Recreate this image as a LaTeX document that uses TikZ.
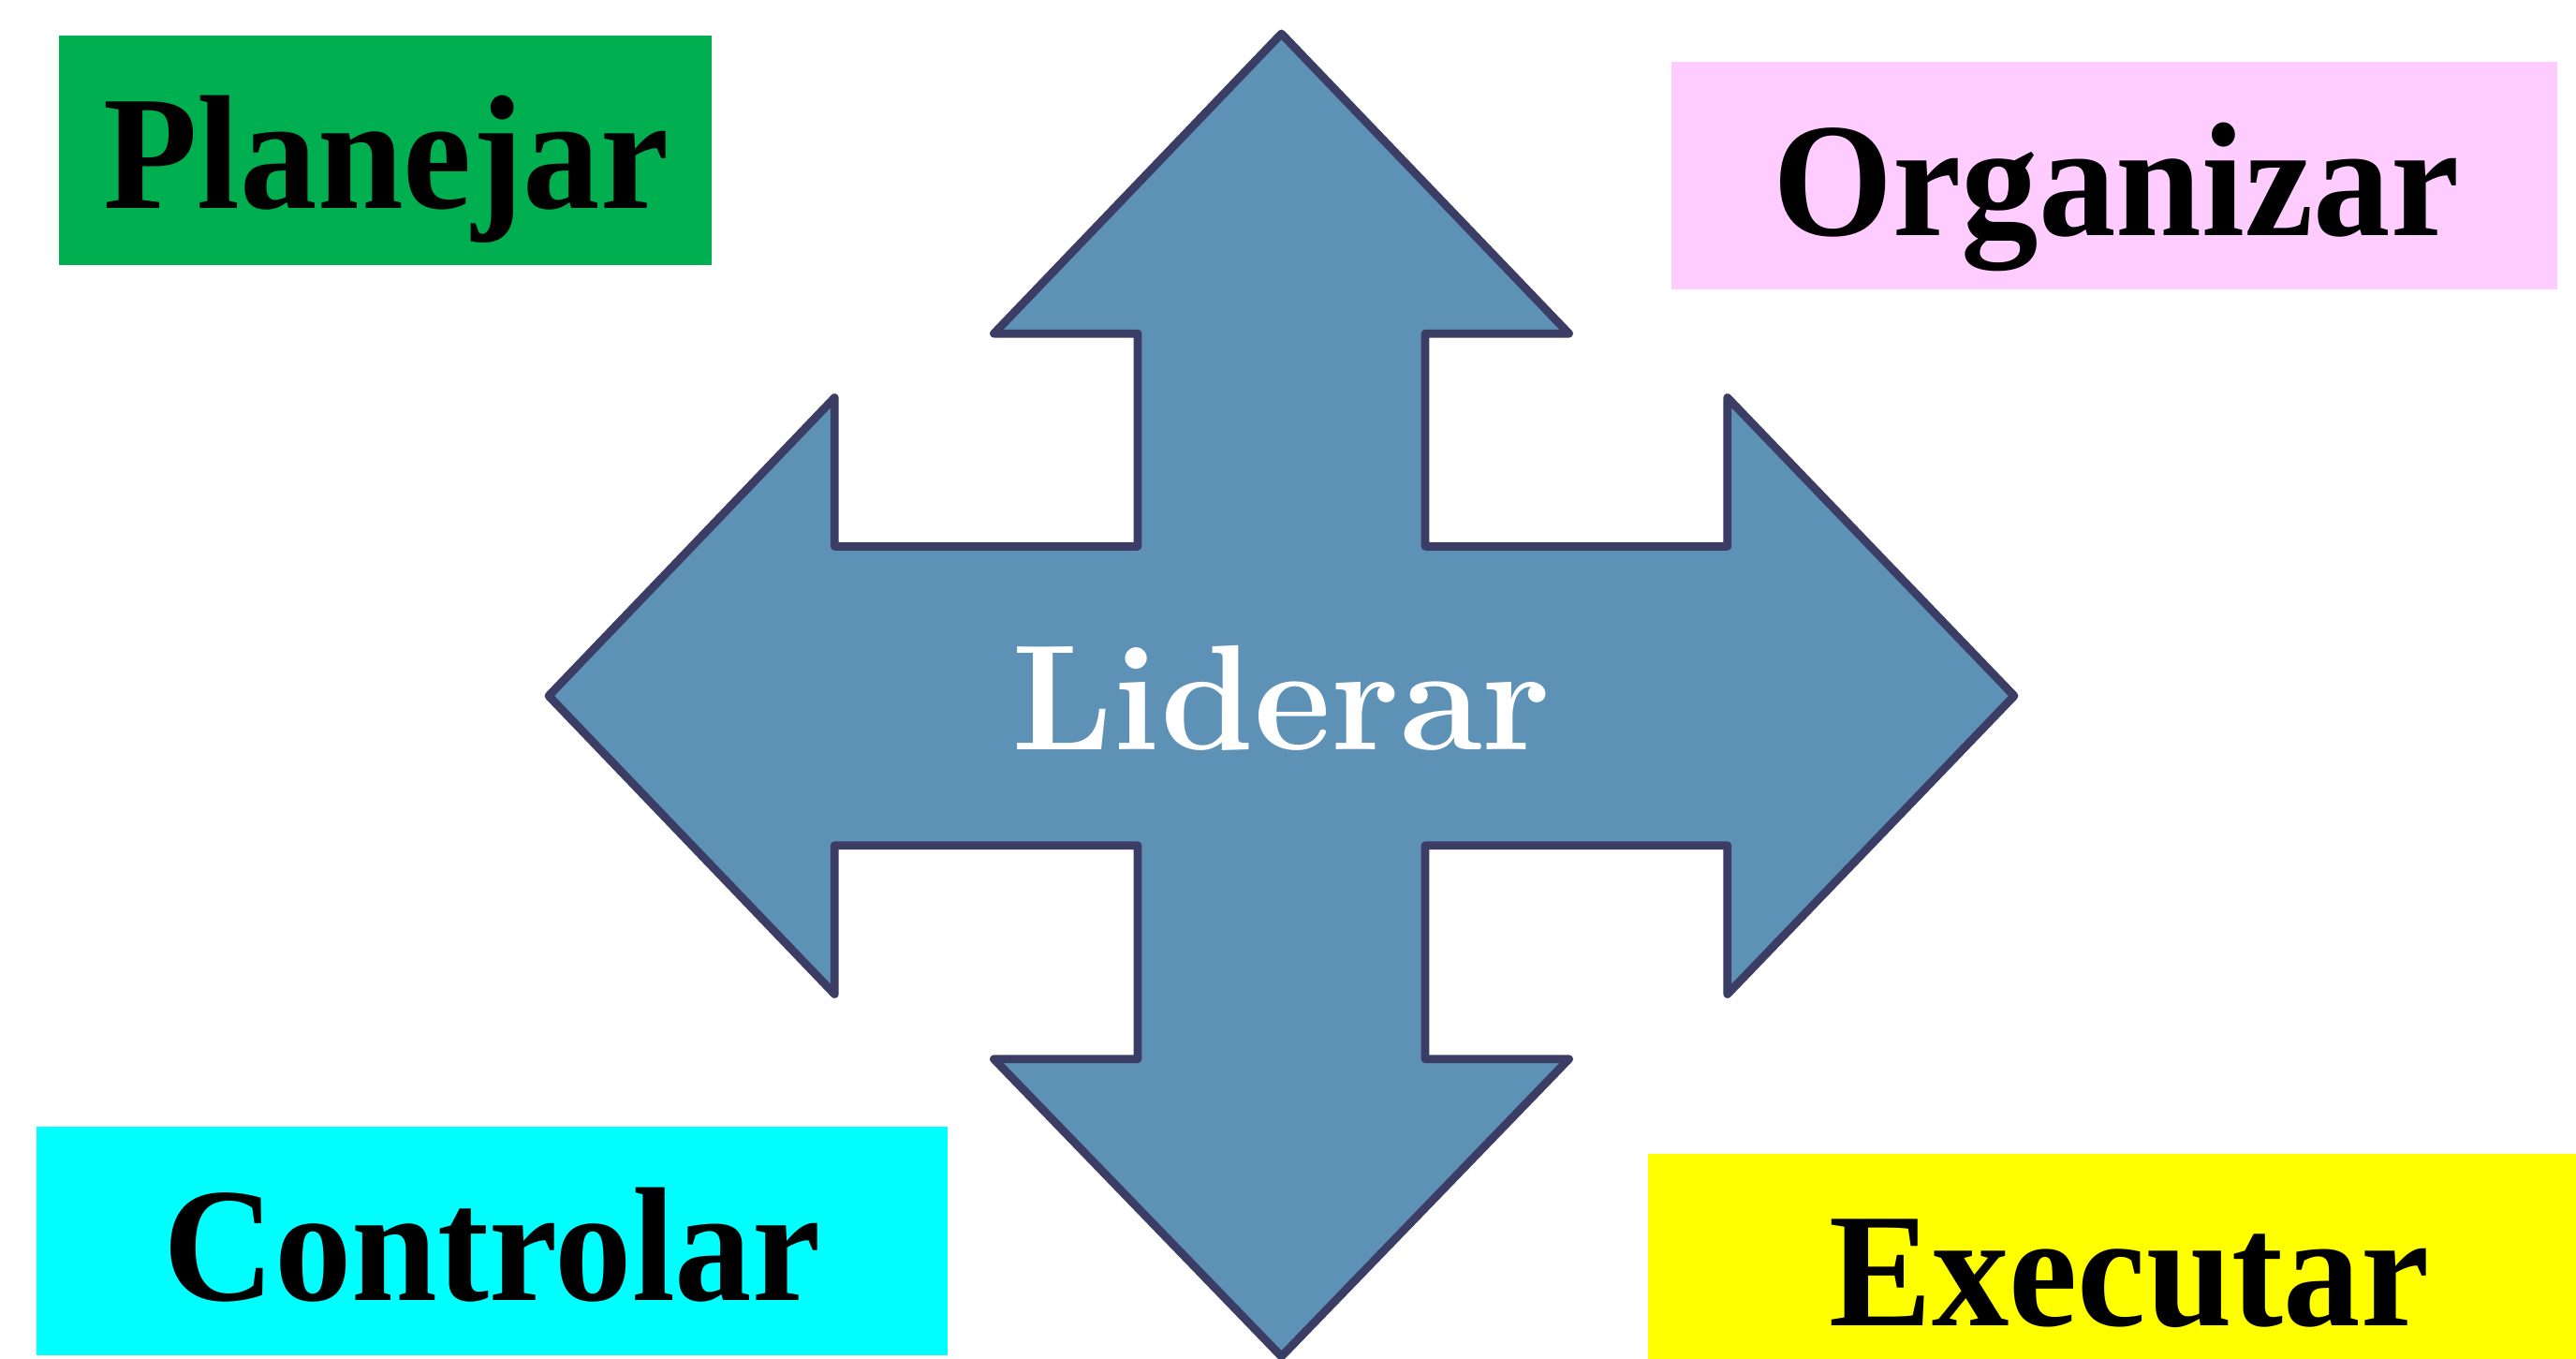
\documentclass[tikz,border=0pt]{standalone}
\usepackage{fontspec}
\newfontfamily\boxfont{Liberation Serif}[FakeStretch=0.95]
\definecolor{arrowfill}{RGB}{93,146,182}
\definecolor{arrowline}{RGB}{60,61,100}
\definecolor{cgreen}{RGB}{0,176,80}
\definecolor{cpink}{RGB}{255,204,255}
\definecolor{ccyan}{RGB}{0,255,255}
\definecolor{cyellow}{RGB}{255,255,0}
\tikzset{
  boxtext/.style={anchor=base, inner sep=0pt, font=\boxfont\bfseries\fontsize{49.4}{56}\selectfont, text=black},
  centertext/.style={anchor=base, inner sep=0pt, font=\bfseries\fontsize{45.6}{52}\selectfont, text=white},
  bigarrow/.style={fill=arrowfill, draw=arrowline, line width=2.5pt, line join=round},
}
\begin{document}
\begin{tikzpicture}[x=0.017545cm, y=-0.017545cm]
\useasboundingbox (0,0) rectangle (1568,827);
% colored boxes
\fill[cgreen] (36,21.8) rectangle (433,161.5);
\fill[cpink] (1017.5,37.8) rectangle (1556.5,176);
\fill[ccyan] (22,685.5) rectangle (576.6,825);
\fill[cyellow] (1003,702) rectangle (1568,827);
% four-way arrow
\draw[bigarrow] (780,20.5) -- (955,203) -- (867.5,203) -- (867.5,332.5)
  -- (1051.5,332.5) -- (1051.5,242) -- (1226,423.5) -- (1051.5,605)
  -- (1051.5,514.5) -- (867.5,514.5) -- (867.5,644.5) -- (955,644.5)
  -- (780,825.5) -- (605,644.5) -- (692.5,644.5) -- (692.5,514.5)
  -- (508,514.5) -- (508,605) -- (334,423.5) -- (508,242)
  -- (508,332.5) -- (692.5,332.5) -- (692.5,203) -- (605,203) -- cycle;
% texts
\node[centertext] (lid) at (780,456.4) {Liderar};
\node[boxtext] (pla) at (235,126.9) {Planejar};
\node[boxtext] (org) at (1288,143.4) {Organizar};
\node[boxtext] (con) at (299.5,791.3) {Controlar};
\node[boxtext] (exe) at (1296,806.9) {Executar};
\end{tikzpicture}
\end{document}
